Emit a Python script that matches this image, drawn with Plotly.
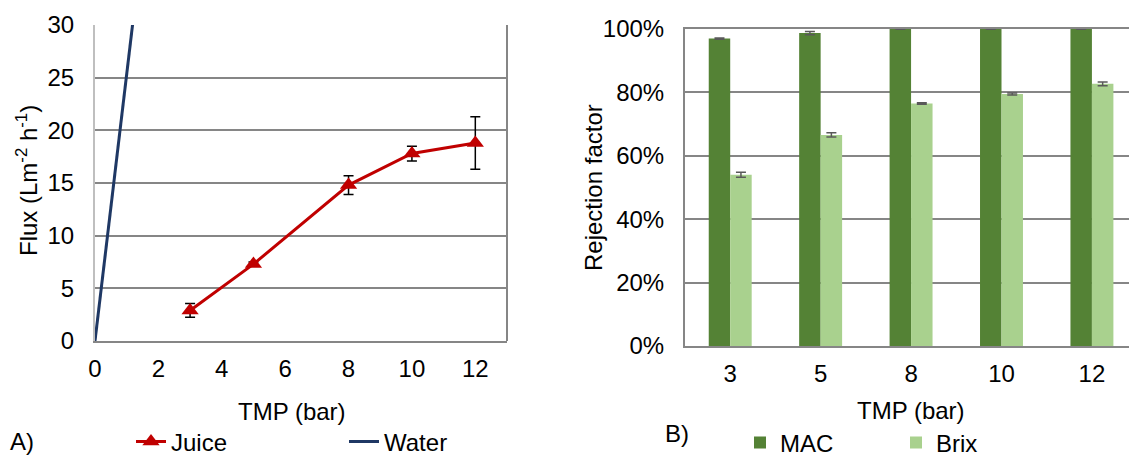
import plotly.graph_objects as go

# ---- Data: panel A (flux vs TMP) ----
juice_tmp = [3, 5, 8, 10, 12]
juice_flux = [2.9, 7.3, 14.8, 17.8, 18.8]
juice_err = [0.65, 0.2, 0.9, 0.7, 2.5]
water_tmp = [0, 3]
water_flux = [0, 76]

# ---- Data: panel B (rejection factor) ----
tmp_categories = ["3", "5", "8", "10", "12"]
mac_rejection = [0.970, 0.987, 1.000, 1.000, 1.000]
mac_err = [0.002, 0.005, 0.001, 0.001, 0.001]
brix_rejection = [0.540, 0.666, 0.765, 0.795, 0.827]
brix_err = [0.008, 0.007, 0.002, 0.003, 0.006]

FONT = "Liberation Sans, Arial, sans-serif"
FS = 24
GRID = "#868686"
W, H = 1129, 458

fig = go.Figure()

# Panel A
fig.add_trace(go.Scatter(
    x=juice_tmp, y=juice_flux, mode="lines+markers", name="Juice",
    line=dict(color="#C00000", width=3),
    marker=dict(symbol="triangle-up", size=15, color="#C00000"),
    error_y=dict(type="data", array=juice_err, color="#000000", thickness=1.5, width=5),
    xaxis="x", yaxis="y", legend="legend",
))
fig.add_trace(go.Scatter(
    x=water_tmp, y=water_flux, mode="lines", name="Water",
    line=dict(color="#1F3864", width=3),
    xaxis="x", yaxis="y", legend="legend",
))

# Panel B
cat_pos = list(range(len(tmp_categories)))
fig.add_trace(go.Bar(
    x=cat_pos, y=mac_rejection, name="MAC", marker=dict(color="#548235", line=dict(width=0)),
    error_y=dict(type="data", array=mac_err, color="#595959", thickness=1.5, width=5),
    xaxis="x2", yaxis="y2", legend="legend2",
))
fig.add_trace(go.Bar(
    x=cat_pos, y=brix_rejection, name="Brix", marker=dict(color="#A9D18E", line=dict(width=0)),
    error_y=dict(type="data", array=brix_err, color="#595959", thickness=1.5, width=5),
    xaxis="x2", yaxis="y2", legend="legend2",
))

yA0, yA1 = 1 - 341 / H, 1 - 25 / H
yB0, yB1 = 1 - 346 / H, 1 - 29 / H


def txt(text, x, y, angle=0):
    return dict(text=text, x=x / W, y=1 - y / H, xref="paper", yref="paper",
                xanchor="center", yanchor="middle", showarrow=False,
                textangle=angle, font=dict(size=FS))


fig.update_layout(
    width=W, height=H,
    margin=dict(l=0, r=0, t=0, b=0, autoexpand=False),
    paper_bgcolor="white", plot_bgcolor="white",
    font=dict(family=FONT, size=FS, color="#000000"),
    barmode="group", bargap=0.525, bargroupgap=0,
    xaxis=dict(
        domain=[95 / W, 507 / W], range=[0, 13], tickmode="array",
        tickvals=[0, 2, 4, 6, 8, 10, 12], showgrid=False, zeroline=False,
        showline=True, linecolor=GRID, linewidth=2, ticks="", ticklabelstandoff=5,
        anchor="y", automargin=False,
    ),
    yaxis=dict(
        domain=[yA0, yA1], range=[0, 30], dtick=5, showgrid=True, gridcolor=GRID,
        gridwidth=2, zeroline=False, showline=True, linecolor="#BFBFBF", linewidth=2,
        ticks="", ticklabelstandoff=14, automargin=False, anchor="x",
    ),
    xaxis2=dict(
        domain=[685 / W, 1.0], range=[-0.5, 4.41], tickmode="array",
        tickvals=cat_pos, ticktext=tmp_categories, showgrid=False, zeroline=False,
        showline=True, linecolor=GRID, linewidth=2, mirror=True, ticks="",
        ticklabelstandoff=5, anchor="y2", automargin=False,
    ),
    yaxis2=dict(
        domain=[yB0, yB1], range=[0, 1], dtick=0.2, tickformat=".0%",
        showgrid=True, gridcolor=GRID, gridwidth=2, zeroline=False,
        showline=True, linecolor=GRID, linewidth=2, ticks="", ticklabelstandoff=14,
        anchor="x2", automargin=False,
    ),
    legend=dict(
        orientation="h", x=131 / W, y=1 - 442 / H, xanchor="left", yanchor="middle",
        entrywidth=168, entrywidthmode="pixels", bgcolor="rgba(0,0,0,0)",
        font=dict(size=FS), traceorder="normal",
    ),
    legend2=dict(
        orientation="h", x=740 / W, y=1 - 443 / H, xanchor="left", yanchor="middle",
        entrywidth=111, entrywidthmode="pixels", bgcolor="rgba(0,0,0,0)",
        font=dict(size=FS), traceorder="normal",
    ),
    annotations=[
        txt("Flux (Lm<sup>-2</sup> h<sup>-1</sup>)", 27, 181, -90),
        txt("Rejection factor", 593, 188, -90),
        txt("TMP (bar)", 292, 411),
        txt("TMP (bar)", 911, 410),
        txt("A)", 22, 441),
        txt("B)", 677, 433),
    ],
    shapes=[
        dict(type="line", xref="x domain", yref="y domain", x0=1, x1=1, y0=0, y1=1,
             line=dict(color=GRID, width=2)),
    ],
)

fig.write_html("out.html", post_script="document.body.style.margin='0';",
               config={"displayModeBar": False})
